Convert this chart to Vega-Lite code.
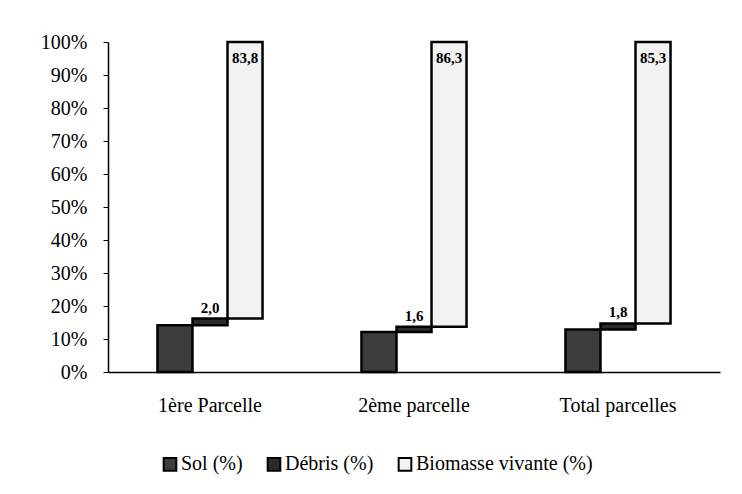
{
  "$schema": "https://vega.github.io/schema/vega-lite/v6.json",
  "width": 612,
  "height": 330,
  "autosize": {"type": "none"},
  "padding": {"left": 108, "top": 42, "right": 22, "bottom": 122},
  "background": "white",
  "config": {
    "view": {"stroke": null},
    "font": "Liberation Serif",
    "axis": {"labelFont": "Liberation Serif", "labelFontSize": 20, "labelColor": "black", "domainColor": "black", "tickColor": "black", "grid": false, "labelOverlap": false}
  },
  "data": {
    "values": [
      {"parcelle": "1ère Parcelle", "serie": "Sol (%)", "debut": 0, "fin": 14.2, "etiquette": ""},
      {"parcelle": "1ère Parcelle", "serie": "Débris (%)", "debut": 14.2, "fin": 16.2, "etiquette": "2,0"},
      {"parcelle": "1ère Parcelle", "serie": "Biomasse vivante (%)", "debut": 16.2, "fin": 100, "etiquette": "83,8"},
      {"parcelle": "2ème parcelle", "serie": "Sol (%)", "debut": 0, "fin": 12.1, "etiquette": ""},
      {"parcelle": "2ème parcelle", "serie": "Débris (%)", "debut": 12.1, "fin": 13.7, "etiquette": "1,6"},
      {"parcelle": "2ème parcelle", "serie": "Biomasse vivante (%)", "debut": 13.7, "fin": 100, "etiquette": "86,3"},
      {"parcelle": "Total parcelles", "serie": "Sol (%)", "debut": 0, "fin": 12.9, "etiquette": ""},
      {"parcelle": "Total parcelles", "serie": "Débris (%)", "debut": 12.9, "fin": 14.7, "etiquette": "1,8"},
      {"parcelle": "Total parcelles", "serie": "Biomasse vivante (%)", "debut": 14.7, "fin": 100, "etiquette": "85,3"}
    ]
  },
  "encoding": {
    "x": {
      "field": "parcelle",
      "type": "nominal",
      "sort": ["1ère Parcelle", "2ème parcelle", "Total parcelles"],
      "scale": {"paddingInner": 0.485, "paddingOuter": 0.2425},
      "axis": {"title": null, "labelAngle": 0, "ticks": false, "domainWidth": 1.5, "labelPadding": 23}
    },
    "xOffset": {
      "field": "serie",
      "type": "nominal",
      "sort": ["Sol (%)", "Débris (%)", "Biomasse vivante (%)"],
      "scale": {"padding": 0}
    }
  },
  "layer": [
    {
      "mark": {"type": "bar", "stroke": "black", "strokeWidth": 2.5},
      "encoding": {
        "y": {
          "field": "debut",
          "type": "quantitative",
          "scale": {"domain": [0, 100], "nice": false},
          "axis": {"title": null, "values": [0, 10, 20, 30, 40, 50, 60, 70, 80, 90, 100], "labelExpr": "datum.value + '%'", "tickSize": 5, "labelPadding": 16, "domainWidth": 1.5, "labelOverlap": false}
        },
        "y2": {"field": "fin"},
        "fill": {
          "field": "serie",
          "type": "nominal",
          "sort": ["Sol (%)", "Débris (%)", "Biomasse vivante (%)"],
          "scale": {"domain": ["Sol (%)", "Débris (%)", "Biomasse vivante (%)"], "range": ["#3d3d3d", "#2b2b2b", "#f2f2f2"]},
          "legend": {
            "title": null,
            "orient": "none",
            "direction": "horizontal",
            "legendX": 52,
            "legendY": 412,
            "symbolType": "square",
            "symbolSize": 160,
            "symbolStrokeColor": "black",
            "symbolStrokeWidth": 2,
            "symbolOpacity": 1,
            "labelFont": "Liberation Serif",
            "labelFontSize": 20,
            "labelColor": "black",
            "labelOffset": 1,
            "columnPadding": 20,
            "labelLimit": 300
          }
        }
      }
    },
    {
      "transform": [{"filter": "datum.serie === 'Débris (%)'"}],
      "mark": {"type": "text", "font": "Liberation Serif", "fontSize": 15, "fontWeight": "bold", "color": "black", "baseline": "alphabetic", "dy": -6},
      "encoding": {
        "y": {"field": "fin", "type": "quantitative", "axis": {"title": null, "values": [0, 10, 20, 30, 40, 50, 60, 70, 80, 90, 100], "labelExpr": "datum.value + '%'", "tickSize": 5, "labelPadding": 16, "domainWidth": 1.5, "labelOverlap": false}},
        "text": {"field": "etiquette"}
      }
    },
    {
      "transform": [{"filter": "datum.serie === 'Biomasse vivante (%)'"}],
      "mark": {"type": "text", "font": "Liberation Serif", "fontSize": 15, "fontWeight": "bold", "color": "black", "baseline": "top", "dy": 9},
      "encoding": {
        "y": {"field": "fin", "type": "quantitative", "axis": {"title": null, "values": [0, 10, 20, 30, 40, 50, 60, 70, 80, 90, 100], "labelExpr": "datum.value + '%'", "tickSize": 5, "labelPadding": 16, "domainWidth": 1.5, "labelOverlap": false}},
        "text": {"field": "etiquette"}
      }
    }
  ]
}
